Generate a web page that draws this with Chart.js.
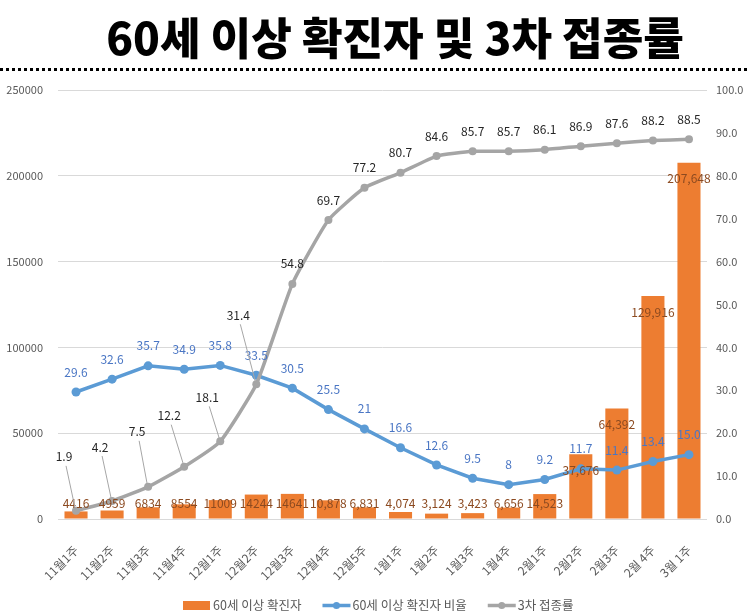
<!DOCTYPE html>
<html><head><meta charset="utf-8">
<script src="https://cdn.jsdelivr.net/npm/chart.js@4.4.0/dist/chart.umd.min.js"></script>
<style>
html,body{margin:0;padding:0;background:#fff;width:748px;height:616px;overflow:hidden;}
#wrap{position:absolute;left:0;top:0;width:748px;height:616px;}
#title{position:absolute;left:21px;top:6px;width:748px;text-align:center;font-family:'Noto Sans CJK KR';font-weight:900;font-size:44px;line-height:60px;color:#000;white-space:nowrap;}
#tt{display:inline-block;transform-origin:50% 50%;}
#dots{position:absolute;left:0;top:68px;width:748px;height:3px;background-image:repeating-linear-gradient(to right,#000 0,#000 3px,transparent 3px,transparent 6px);}
</style></head>
<body>
<div id="wrap"><canvas id="c" width="748" height="616"></canvas></div>
<div id="title"><span id="tt">60세 이상 확진자 및 3차 접종률</span></div>
<div id="dots"></div>
<script>
const categories = ['11월1주','11월2주','11월3주','11월4주','12월1주','12월2주','12월3주','12월4주','12월5주','1월1주','1월2주','1월3주','1월4주','2월1주','2월2주','2월3주','2월 4주','3월 1주'];
const confirmed60 = [4416,4959,6834,8554,11009,14244,14641,10878,6831,4074,3124,3423,6656,14523,37676,64392,129916,207648];
const confirmedLabels = ['4416','4959','6834','8554','11009','14244','14641','10,878','6,831','4,074','3,124','3,423','6,656','14,523','37,676','64,392','129,916','207,648'];
const ratio60 = [29.6,32.6,35.7,34.9,35.8,33.5,30.5,25.5,21,16.6,12.6,9.5,8,9.2,11.7,11.4,13.4,15.0];
const ratioLabels = ['29.6','32.6','35.7','34.9','35.8','33.5','30.5','25.5','21','16.6','12.6','9.5','8','9.2','11.7','11.4','13.4','15.0'];
const booster = [1.9,4.2,7.5,12.2,18.1,31.4,54.8,69.7,77.2,80.7,84.6,85.7,85.7,86.1,86.9,87.6,88.2,88.5];
const boosterLabels = ['1.9','4.2','7.5','12.2','18.1','31.4','54.8','69.7','77.2','80.7','84.6','85.7','85.7','86.1','86.9','87.6','88.2','88.5'];
const leftTicks = [0,50000,100000,150000,200000,250000];
const rightTicks = [0,10,20,30,40,50,60,70,80,90,100];
const seriesNames = ['60세 이상 확진자','60세 이상 확진자 비율','3차 접종률'];

// label placement (style only)
const boosterLeaderOffsets = [[-12,-54],[-12,-54],[-11,-55],[-15,-51],[-13,-44],[-18,-69]];

const FONT = '"Noto Sans CJK KR", "Noto Sans", sans-serif';
const ORANGE = '#ED7D31', BLUE = '#5B9BD5', GRAY = '#A5A5A5';

const labelPlugin = {
  id: 'valueLabels',
  afterDatasetsDraw(chart) {
    const ctx = chart.ctx;
    const yBase = chart.scales.y.getPixelForValue(0);
    ctx.save();
    ctx.font = '12px ' + FONT;
    ctx.textAlign = 'center';
    ctx.textBaseline = 'middle';
    chart.getDatasetMeta(0).data.forEach((el, i) => {
      const y = Math.min(el.y + 16, yBase - 16);
      ctx.fillStyle = '#8c4a20';
      ctx.fillText(confirmedLabels[i], el.x, y);
    });
    chart.getDatasetMeta(1).data.forEach((el, i) => {
      ctx.fillStyle = '#4a76c4';
      ctx.fillText(ratioLabels[i], el.x, el.y - 20);
    });
    chart.getDatasetMeta(2).data.forEach((el, i) => {
      const off = boosterLeaderOffsets[i];
      let lx = el.x, ly = el.y - 20;
      if (off) {
        lx = el.x + off[0]; ly = el.y + off[1];
        ctx.strokeStyle = '#a6a6a6';
        ctx.lineWidth = 1;
        ctx.beginPath();
        ctx.moveTo(lx + 2, ly + 9);
        ctx.lineTo(el.x - 1, el.y - 3);
        ctx.stroke();
      }
      ctx.fillStyle = '#262626';
      ctx.fillText(boosterLabels[i], lx, ly);
    });
    ctx.restore();
  }
};

const legendPlugin = {
  id: 'customLegend',
  afterDraw(chart) {
    const ctx = chart.ctx;
    ctx.save();
    ctx.font = '12.5px ' + FONT;
    ctx.textBaseline = 'middle';
    const sym = 28, gapT = 2, gapI = 21;
    const widths = seriesNames.map(t => sym + gapT + ctx.measureText(t).width);
    let x = 183;
    const y = 605.5;
    seriesNames.forEach((t, i) => {
      if (i === 0) {
        ctx.fillStyle = ORANGE;
        ctx.fillRect(x, y - 4.5, 27, 9);
      } else {
        const c = i === 1 ? BLUE : GRAY;
        ctx.strokeStyle = c; ctx.lineWidth = 3.5;
        ctx.beginPath(); ctx.moveTo(x, y); ctx.lineTo(x + sym, y); ctx.stroke();
        ctx.fillStyle = c;
        ctx.beginPath(); ctx.arc(x + sym / 2, y, 3.5, 0, Math.PI * 2); ctx.fill();
      }
      ctx.fillStyle = '#595959';
      ctx.textAlign = 'left';
      ctx.fillText(t, x + sym + gapT, y);
      x += widths[i] + gapI;
    });
    ctx.restore();
  }
};

new Chart(document.getElementById('c'), {
  type: 'bar',
  data: {
    labels: categories,
    datasets: [
      { type: 'bar', label: seriesNames[0], data: confirmed60, backgroundColor: ORANGE, yAxisID: 'y', order: 3,
        barPercentage: 0.8, categoryPercentage: 0.8 },
      { type: 'line', label: seriesNames[1], data: ratio60, borderColor: BLUE, backgroundColor: BLUE, yAxisID: 'y1', order: 2,
        borderWidth: 3.5, pointRadius: 4.5, pointBackgroundColor: BLUE, pointBorderWidth: 0, tension: 0 },
      { type: 'line', label: seriesNames[2], data: booster, borderColor: GRAY, backgroundColor: GRAY, yAxisID: 'y1', order: 1,
        borderWidth: 3.5, pointRadius: 4, pointBackgroundColor: GRAY, pointBorderWidth: 0, tension: 0.15 }
    ]
  },
  options: {
    responsive: false,
    animation: false,
    devicePixelRatio: 1,
    layout: { padding: { top: 90, left: 0, right: 0, bottom: 0 } },
    plugins: { legend: { display: false }, tooltip: { enabled: false }, title: { display: false } },
    scales: {
      x: {
        grid: { display: false }, border: { display: false },
        ticks: { color: '#595959', font: { size: 12, family: FONT }, maxRotation: 45, minRotation: 45, autoSkip: false, padding: 16 },
        afterFit(s) { s.height = 97; }
      },
      y: {
        position: 'left', min: 0, max: 250000,
        afterBuildTicks(s) { s.ticks = leftTicks.map(v => ({ value: v })); },
        ticks: { color: '#595959', font: { size: 11, family: FONT }, padding: 15, callback: v => String(v) },
        grid: { color: '#d9d9d9', drawTicks: false, lineWidth: 1 },
        border: { display: false },
        afterFit(s) { s.width = 58; }
      },
      y1: {
        position: 'right', min: 0, max: 100,
        afterBuildTicks(s) { s.ticks = rightTicks.map(v => ({ value: v })); },
        ticks: { color: '#595959', font: { size: 11, family: FONT }, padding: 9, callback: v => Number(v).toFixed(1) },
        grid: { display: false, drawTicks: false },
        border: { display: false },
        afterFit(s) { s.width = 41; }
      }
    }
  },
  plugins: [labelPlugin, legendPlugin]
});

// fit title width to reference span
const tt = document.getElementById('tt');
const w = tt.getBoundingClientRect().width;
tt.style.transform = 'scaleX(' + (578 / w).toFixed(3) + ')';
</script>
</body></html>
